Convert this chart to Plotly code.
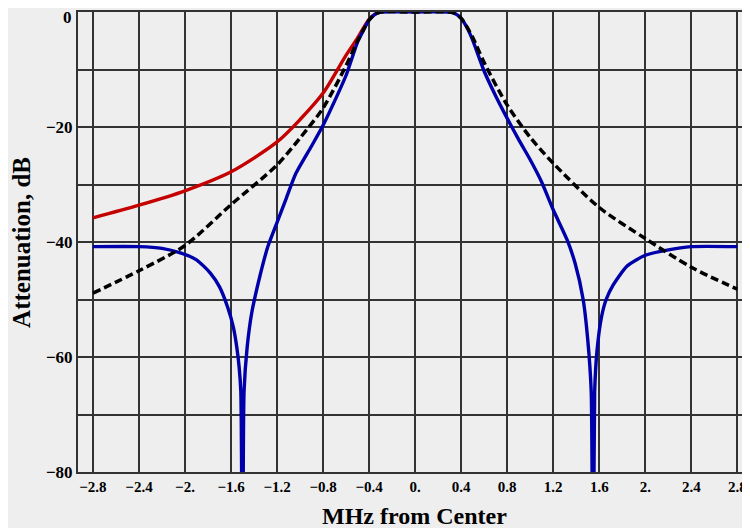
import plotly.graph_objects as go

# ---- data ----
red_x = [-2.8, -2.4, -2.0, -1.6, -1.2, -1.0, -0.8, -0.6, -0.5, -0.45, -0.4, -0.35, -0.3]
red_y = [-35.8, -33.6, -31.1, -27.8, -22.6, -18.7, -14.1, -7.5, -4.5, -2.8, -1.3, -0.4, 0.0]

black_x = [-2.8, -2.4, -2.0, -1.6, -1.2, -1.0, -0.8, -0.6, -0.5, -0.45, -0.4, -0.35, -0.3,
           0.0, 0.3, 0.35, 0.4, 0.45, 0.5, 0.6, 0.8, 1.0, 1.2, 1.6, 2.0, 2.4, 2.8]
black_y = [-48.9, -45.0, -40.6, -33.5, -26.6, -21.9, -16.7, -9.3, -5.0, -3.1, -1.4, -0.4, 0.0,
           0.0, 0.0, -0.3, -1.1, -2.6, -4.4, -8.8, -16.2, -21.8, -26.3, -34.0, -39.4, -44.4, -48.2]

blue_x = [-2.8, -2.4, -2.2, -2.04, -1.90, -1.78, -1.70, -1.63, -1.58, -1.55, -1.53, -1.515,
          -1.50, -1.487, -1.46, -1.42, -1.35, -1.28, -1.2, -1.12, -1.04, -0.9, -0.8, -0.7, -0.6,
          -0.5, -0.45, -0.4, -0.35, -0.3,
          0.0, 0.3, 0.35, 0.4, 0.45, 0.5, 0.6, 0.7, 0.8, 0.9, 1.0, 1.1, 1.2, 1.32, 1.39, 1.46,
          1.50, 1.53, 1.545, 1.56, 1.58, 1.62, 1.66, 1.72, 1.84, 2.0, 2.19, 2.4, 2.8]
blue_y = [-40.8, -40.8, -41.1, -41.9, -43.1, -45.4, -47.8, -51.3, -54.8, -58.3, -61.7, -66.0,
          -110.0, -66.0, -58.3, -52.3, -46.0, -40.8, -36.6, -32.4, -28.2, -23.3, -19.7, -15.5, -11.0,
          -5.2, -3.2, -1.4, -0.4, 0.0,
          0.0, 0.0, -0.3, -1.1, -2.7, -4.9, -10.3, -14.6, -18.5, -22.2, -25.7, -29.6, -34.4, -39.6, -43.7, -50.0,
          -57.0, -66.0, -110.0, -66.0, -59.0, -53.0, -50.0, -47.5, -44.2, -42.3, -41.4, -40.8, -40.8]

x_ticks = [-2.8, -2.4, -2.0, -1.6, -1.2, -0.8, -0.4, 0.0, 0.4, 0.8, 1.2, 1.6, 2.0, 2.4, 2.8]
x_labels = ["−2.8", "−2.4", "−2.", "−1.6", "−1.2", "−0.8", "−0.4", "0.",
            "0.4", "0.8", "1.2", "1.6", "2.", "2.4", "2.8"]
y_ticks = [0, -10, -20, -30, -40, -50, -60, -70, -80]
y_labels = ["", "", "−20", "", "−40", "", "−60", "", "−80"]
y_top_label = "0"

BG = "#EEEEEE"
GRID = "#333333"
FONT = "Liberation Serif"

fig = go.Figure()
fig.add_trace(go.Scatter(x=red_x, y=red_y, mode="lines",
                         line=dict(color="#C40000", width=3.4, shape="spline", smoothing=0.8),
                         showlegend=False, hoverinfo="skip"))
fig.add_trace(go.Scatter(x=blue_x, y=blue_y, mode="lines",
                         line=dict(color="#0000AA", width=3.4, shape="spline", smoothing=0.6),
                         showlegend=False, hoverinfo="skip"))
fig.add_trace(go.Scatter(x=black_x, y=black_y, mode="lines",
                         line=dict(color="#000000", width=3.5, dash="8px,4px", shape="spline", smoothing=0.8),
                         showlegend=False, hoverinfo="skip"))

# page body has an 8px margin: the figure is sized/placed so the plot lands where the reference has it
fig.update_layout(
    width=742, height=520,
    margin=dict(l=70, r=0, t=4, b=56, autoexpand=False),
    paper_bgcolor=BG, plot_bgcolor=BG,
    font=dict(family=FONT, size=16, color="#000000"),
    xaxis=dict(range=[-2.93, 2.91], tickvals=x_ticks, ticktext=x_labels,
               showgrid=True, gridcolor=GRID, gridwidth=1.8, zeroline=False,
               showline=True, linecolor=GRID, linewidth=2, mirror=True,
               ticks="", ticklen=0, automargin=False, ticklabeloverflow="allow",
               tickfont=dict(family=FONT, size=15, color="#000000", weight="bold")),
    yaxis=dict(range=[-80, 0], tickvals=y_ticks, ticktext=y_labels,
               showgrid=True, gridcolor=GRID, gridwidth=1.8, zeroline=False,
               showline=True, linecolor=GRID, linewidth=2, mirror=True,
               ticks="", ticklen=0, automargin=False,
               tickfont=dict(family=FONT, size=17, color="#000000", weight="bold")),
    annotations=[
        dict(text=y_top_label, xref="paper", yref="paper", x=0, y=1, xshift=-4, yshift=6,
             xanchor="right", yanchor="top", showarrow=False,
             font=dict(family=FONT, size=17, color="#000000", weight="bold")),
        dict(text="MHz from Center", xref="paper", yref="paper", x=0.5, y=-0.062,
             xanchor="center", yanchor="top", showarrow=False,
             font=dict(family=FONT, size=24, color="#000000", weight="bold")),
        dict(text="Attenuation, dB", xref="paper", yref="paper", x=-0.085, y=0.5,
             xanchor="center", yanchor="middle", textangle=-90, showarrow=False,
             font=dict(family=FONT, size=25, color="#000000", weight="bold")),
    ],
)

fig.write_html("out.html")
